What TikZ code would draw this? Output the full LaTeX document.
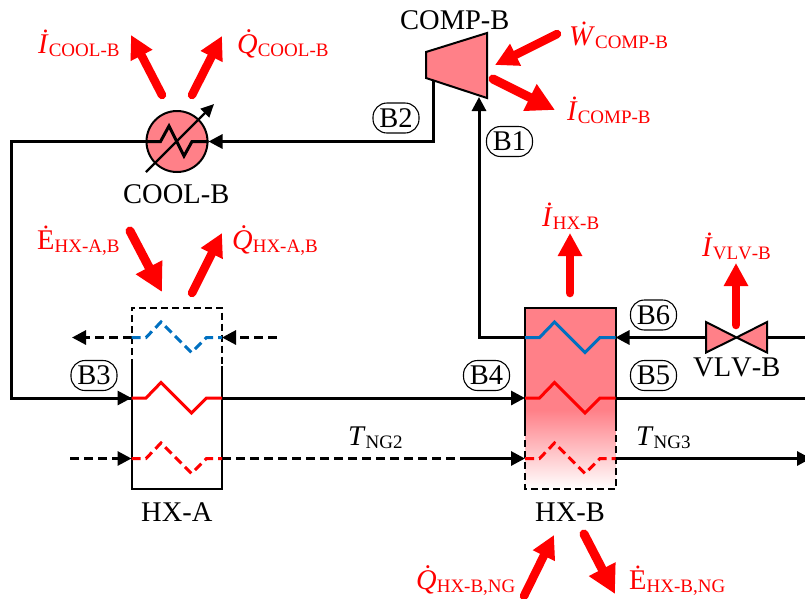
\documentclass[tikz,border=0pt]{standalone}
\usepackage{fontspec}
\setmainfont[Kerning=Off]{Liberation Serif}
\usetikzlibrary{calc,arrows.meta}
\definecolor{unitpink}{HTML}{FF8088}
\definecolor{coldblue}{HTML}{0070C0}
\newcommand{\flowsub}[1]{\raisebox{-3pt}{\fontsize{19}{19}\selectfont\upshape #1}}
\newcommand{\Qdot}{\textit{Q}\llap{\raisebox{5pt}{\textit{˙}}\kern6pt}}
\newcommand{\hxcoil}[2]{\path[draw,#1](#2)--++(14.5,0)--++(15,-15.5)--++(30.5,30.5)--++(15,-15)--++(15.5,0);}
\begin{document}
\begin{tikzpicture}[x=1pt,y=-1pt,
        stream/.style={line width=3pt},
        flow/.style={stream,-{Triangle[length=14pt,width=14pt]}},
        dashflow/.style={flow,dash pattern=on 9pt off 5pt},
        wall/.style={line width=2pt},
        dashwall/.style={wall,dash pattern=on 7pt off 4pt},
        bigarrow/.style={draw=red,line width=8.5pt,line cap=round,-{Triangle[length=23pt,width=23pt]}},
        fatarrow/.style={draw=red,line width=9pt,line cap=round,-{Triangle[length=28pt,width=28pt]}},
        tag/.style={draw,line width=1.1pt,rounded corners=14pt,minimum width=46pt,minimum height=30pt,inner sep=0pt,font=\fontsize{28.5}{30}\selectfont},
        unitname/.style={inner sep=0pt,anchor=base west,font=\fontsize{28.5}{30}\selectfont},
        redlabel/.style={unitname,text=red}]
    \useasboundingbox(0,0)rectangle(805,598);
    \clip(0,0)rectangle(805,598);
    %HX-A
    \coordinate(AtopL)at(131.5,307.5);
    \coordinate(AtopR)at(222,307.5);
    \coordinate(AmidL)at(131.5,366);
    \coordinate(AmidR)at(222,366);
    \coordinate(AbotL)at(131.5,489);
    \coordinate(AbotR)at(222,489);
    \coordinate(Ablue)at(131.5,337.5);
    \coordinate(Ablueout)at(222,337.5);
    \coordinate(Ared)at(131.5,398);
    \coordinate(Aredout)at(222,398);
    \coordinate(Ang)at(131.5,458.5);
    \coordinate(Angout)at(222,458.5);
    %HX-B
    \coordinate(BtopL)at(525,307.5);
    \coordinate(BtopR)at(615.5,307.5);
    \coordinate(BfadeL)at(525,410);
    \coordinate(BfadeR)at(615.5,410);
    \coordinate(BmidL)at(525,429);
    \coordinate(BmidR)at(615.5,429);
    \coordinate(BbotL)at(525,489);
    \coordinate(BbotR)at(615.5,489);
    \coordinate(Bblue)at(525,337.5);
    \coordinate(Bblueout)at(615.5,337.5);
    \coordinate(Bred)at(525,398);
    \coordinate(Bredout)at(615.5,398);
    \coordinate(Bng)at(525,458.5);
    \coordinate(Bngout)at(615.5,458.5);
    \fill[unitpink](BtopL)rectangle(BfadeR);
    \shade[top color=unitpink,bottom color=white](BfadeL)rectangle(BbotR);
    %streams
    \coordinate(Cout)at(11,141.5);
    \coordinate(Cdown)at(11,398);
    \coordinate(Ccorner)at(433.5,141.5);
    \coordinate(Cfeed)at(433.5,79);
    \coordinate(Bcorner)at(479,337.5);
    \coordinate(Bfeed)at(479,97);
    \coordinate(VL)at(706,337.5);
    \coordinate(VR)at(767,337.5);
    \coordinate(VC)at(736.5,337.5);
    \coordinate(Eblue)at(805,337.5);
    \coordinate(Ered)at(805,398);
    \coordinate(Eng)at(811,458.5);
    \coordinate(Asplit)at(462,458.5);
    \coordinate(Aleft)at(72,337.5);
    \coordinate(Aright)at(277,337.5);
    \coordinate(Anginl)at(70,458.5);
    %cooler
    \node[draw,wall,circle,fill=unitpink,minimum size=61pt,inner sep=0pt](COOL)at(177,141.5){};
    \path[draw,flow](Cfeed)to(Ccorner)to(COOL.east);
    \path[draw,stream](COOL.west)to(Cout)to(Cdown)to(Ared);
    \path[draw,flow](Cdown)to(Ared);
    \path[draw,flow](Aredout)to(Bred);
    \path[draw,stream](Bredout)to(Ered);
    \path[draw,flow](VL)to(Bblueout);
    \path[draw,stream](Eblue)to(VR);
    \path[draw,flow](Bblue)to(Bcorner)to(Bfeed);
    \path[draw,dashflow](Anginl)to(Ang);
    \path[draw,stream,dash pattern=on 9pt off 5pt](Angout)to(Asplit);
    \path[draw,flow](Asplit)to(Bng);
    \path[draw,flow](Bngout)to(Eng);
    \path[draw,dashflow](Ablue)to(Aleft);
    \path[draw,dashflow](Aright)to(Ablueout);
    %cooler coil
    \path[draw,stream](COOL.west)--++(15,0)--(169,126)--(184,156)--(192,141.5)--(COOL.east);
    \path[draw,line width=2.4pt,-{Triangle[length=13pt,width=12pt]}](146,172)to(214,104);
    %compressor
    \path[draw,wall,fill=unitpink](426,52)--(487,33)--(487,98)--(426,78)--cycle;
    %valve
    \path[draw,wall,fill=unitpink](VC)--(706,322)--(706,352.5)--cycle;
    \path[draw,wall,fill=unitpink](VC)--(767,322)--(767,352.5)--cycle;
    %HX walls
    \path[draw,dashwall](AmidL)to(AtopL)to(AtopR)to(AmidR);
    \path[draw,wall](AmidL)to(AbotL)to(AbotR)to(AmidR);
    \path[draw,wall](BmidL)to(BtopL)to(BtopR)to(BmidR);
    \path[draw,dashwall](BmidL)to(BbotL)to(BbotR)to(BmidR);
    %coils
    \hxcoil{coldblue,stream,dash pattern=on 9pt off 5pt}{Ablue}
    \hxcoil{red,stream}{Ared}
    \hxcoil{red,stream,dash pattern=on 9pt off 5pt}{Ang}
    \hxcoil{coldblue,stream}{Bblue}
    \hxcoil{red,stream}{Bred}
    \hxcoil{red,stream,dash pattern=on 9pt off 5pt}{Bng}
    %state tags
    \node[tag](B1)at(509.5,141.5){B1};
    \node[tag](B2)at(396,118){B2};
    \node[tag](B3)at(94,375.5){B3};
    \node[tag](B4)at(486.5,375.5){B4};
    \node[tag](B5)at(653.5,375.5){B5};
    \node[tag](B6)at(653.5,315){B6};
    %unit names
    \node[unitname](nameCOOL)at(123,203){COOL-B};
    \node[unitname](nameCOMP)at(400,29){COMP-B};
    \node[unitname](nameHXA)at(141,521){HX-A};
    \node[unitname](nameHXB)at(535,521){HX-B};
    \node[unitname](nameVLV)at(693,376){VLV-B};
    %red arrows
    \coordinate(a1s)at(162,95);\coordinate(a1e)at(131,35);
    \coordinate(a2s)at(192,95);\coordinate(a2e)at(222,36);
    \coordinate(a3s)at(130,231);\coordinate(a3e)at(162,292);
    \coordinate(a4s)at(192,293);\coordinate(a4e)at(222,233);
    \coordinate(a5s)at(557,34);\coordinate(a5e)at(495,65);
    \coordinate(a6s)at(493,79);\coordinate(a6e)at(555,110);
    \coordinate(a7s)at(570,293);\coordinate(a7e)at(570,233);
    \coordinate(a8s)at(736,325);\coordinate(a8e)at(736,263);
    \coordinate(a9s)at(524,596);\coordinate(a9e)at(554,535);
    \coordinate(a10s)at(584,534);\coordinate(a10e)at(615,594);
    \foreach \i in {1,2,4,5,7,8,9}{
        \path[bigarrow](a\i s)to(a\i e);
    }
    \foreach \i in {3,6,10}{
        \path[fatarrow](a\i s)to(a\i e);
    }
    %red labels
    \node[redlabel](lblIcool)at(38,53){\textit{\.I}\flowsub{COOL-B}};
    \node[redlabel](lblQcool)at(237,53){\Qdot\flowsub{COOL-B}};
    \node[redlabel](lblEa)at(37,249){\.E\flowsub{HX-A,B}};
    \node[redlabel](lblQa)at(232,249){\Qdot\flowsub{HX-A,B}};
    \node[redlabel](lblWcomp)at(569,45){\textit{\.W}\flowsub{COMP-B}};
    \node[redlabel](lblIcomp)at(567,120){\textit{\.I}\flowsub{COMP-B}};
    \node[redlabel](lblIhx)at(542,226){\textit{\.I}\flowsub{HX-B}};
    \node[redlabel](lblIvlv)at(702,256){\textit{\.I}\flowsub{VLV-B}};
    \node[redlabel](lblQb)at(416,589){\Qdot\flowsub{HX-B,NG}};
    \node[redlabel](lblEb)at(629,589){\.E\flowsub{HX-B,NG}};
    %temperatures
    \node[unitname](lblT2)at(348,445){\textit{T}\flowsub{NG2}};
    \node[unitname](lblT3)at(636,445){\textit{T}\flowsub{NG3}};
\end{tikzpicture}
\end{document}
